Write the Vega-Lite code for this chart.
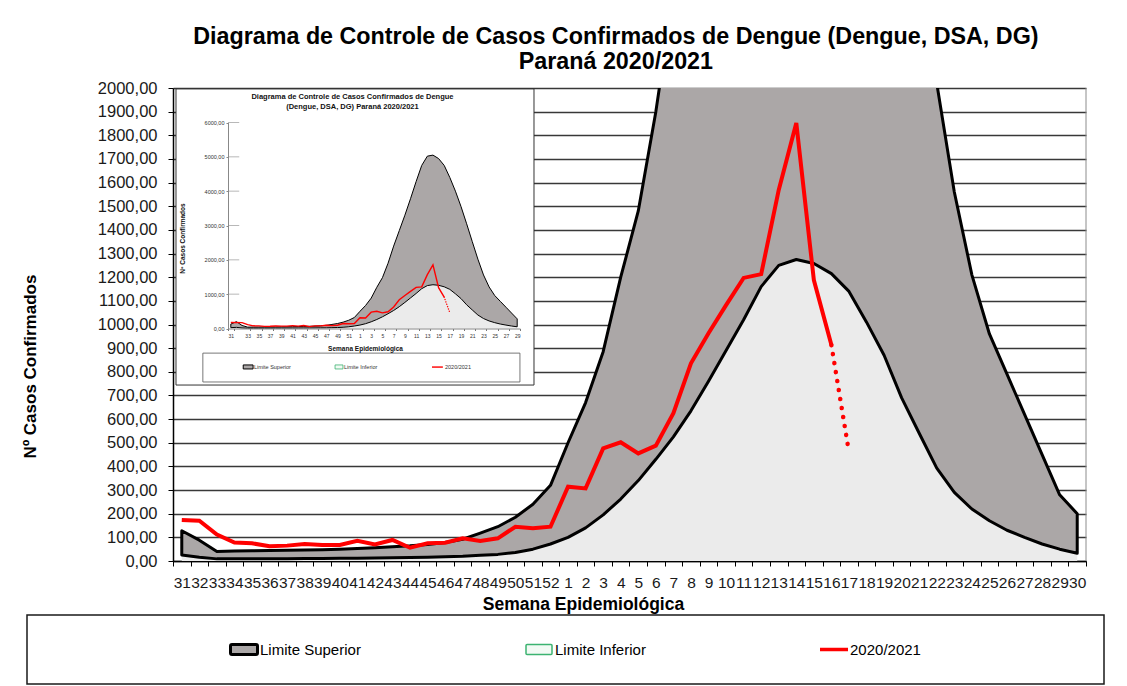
{
  "$schema": "https://vega.github.io/schema/vega-lite/v6.json",
  "background": "white",
  "padding": {"left": 21, "top": 24, "right": 0, "bottom": 0},
  "title": {
    "text": ["Diagrama de Controle de Casos Confirmados de Dengue (Dengue, DSA, DG)", "Paraná 2020/2021"],
    "font": "Liberation Sans", "fontSize": 23.3, "fontWeight": "bold", "color": "#000000",
    "lineHeight": 25, "anchor": "middle", "offset": 6, "dx": 53
  },
  "datasets": {
    "semanas": [
      {"semana":"31","sup":128,"inf":25,"casos":173},
      {"semana":"32","sup":88,"inf":16,"casos":170},
      {"semana":"33","sup":40,"inf":9,"casos":112},
      {"semana":"34","sup":42,"inf":9,"casos":78},
      {"semana":"35","sup":43,"inf":9,"casos":75},
      {"semana":"36","sup":44,"inf":10,"casos":62},
      {"semana":"37","sup":45,"inf":10,"casos":65},
      {"semana":"38","sup":46,"inf":11,"casos":72},
      {"semana":"39","sup":48,"inf":11,"casos":68},
      {"semana":"40","sup":50,"inf":12,"casos":68},
      {"semana":"41","sup":53,"inf":12,"casos":85},
      {"semana":"42","sup":56,"inf":13,"casos":70},
      {"semana":"43","sup":60,"inf":14,"casos":89},
      {"semana":"44","sup":64,"inf":15,"casos":56},
      {"semana":"45","sup":70,"inf":16,"casos":75},
      {"semana":"46","sup":78,"inf":18,"casos":77},
      {"semana":"47","sup":92,"inf":20,"casos":96},
      {"semana":"48","sup":118,"inf":24,"casos":85},
      {"semana":"49","sup":145,"inf":28,"casos":96},
      {"semana":"50","sup":185,"inf":36,"casos":145},
      {"semana":"51","sup":240,"inf":50,"casos":138},
      {"semana":"52","sup":320,"inf":72,"casos":145},
      {"semana":"1","sup":500,"inf":100,"casos":314},
      {"semana":"2","sup":670,"inf":140,"casos":307},
      {"semana":"3","sup":885,"inf":195,"casos":476},
      {"semana":"4","sup":1200,"inf":262,"casos":502},
      {"semana":"5","sup":1480,"inf":340,"casos":455},
      {"semana":"6","sup":1900,"inf":430,"casos":488},
      {"semana":"7","sup":2400,"inf":525,"casos":625},
      {"semana":"8","sup":2850,"inf":635,"casos":836},
      {"semana":"9","sup":3300,"inf":760,"casos":963},
      {"semana":"10","sup":3780,"inf":890,"casos":1082},
      {"semana":"11","sup":4280,"inf":1020,"casos":1197},
      {"semana":"12","sup":4750,"inf":1160,"casos":1213},
      {"semana":"13","sup":5020,"inf":1250,"casos":1569},
      {"semana":"14","sup":5050,"inf":1275,"casos":1852},
      {"semana":"15","sup":4950,"inf":1258,"casos":1188},
      {"semana":"16","sup":4750,"inf":1215,"casos":913,"proj":913},
      {"semana":"17","sup":4400,"inf":1140,"proj":460},
      {"semana":"18","sup":4000,"inf":1010},
      {"semana":"19","sup":3550,"inf":870},
      {"semana":"20","sup":3050,"inf":690},
      {"semana":"21","sup":2530,"inf":540},
      {"semana":"22","sup":2020,"inf":393},
      {"semana":"23","sup":1560,"inf":290},
      {"semana":"24","sup":1210,"inf":220},
      {"semana":"25","sup":960,"inf":170},
      {"semana":"26","sup":790,"inf":130},
      {"semana":"27","sup":620,"inf":100},
      {"semana":"28","sup":450,"inf":72},
      {"semana":"29","sup":280,"inf":50},
      {"semana":"30","sup":200,"inf":33}
    ],
    "legenda": [
      {"item": "Limite Superior"},
      {"item": "Limite Inferior"},
      {"item": "2020/2021"}
    ]
  },
  "spacing": 1,
  "vconcat": [
    {
      "width": 1077,
      "height": 473,
      "resolve": {"scale": {"x": "independent", "y": "independent"}},
      "layer": [
        {
          "data": {"name": "semanas"},
          "encoding": {
            "x": {
              "field": "semana", "type": "ordinal", "sort": null, "bandPosition": 0.5,
              "scale": {"type": "band", "paddingInner": 0, "paddingOuter": 0, "range": [146, 1059]},
              "axis": {
                "title": "Semana  Epidemiológica", "labelAngle": 0, "labelOverlap": false, "labelBound": false,
                "labelFont": "Liberation Sans", "labelFontSize": 15.5, "labelColor": "#1a1a1a",
                "labelBaseline": "middle", "labelPadding": 16, "tickBand": "extent", "tickSize": 5,
                "tickColor": "#000000", "domainColor": "#000000", "domainWidth": 1.5, "grid": false,
                "titleFont": "Liberation Sans", "titleFontSize": 17.5, "titleFontWeight": "bold", "titleColor": "#000000",
                "titleX": 556, "titleY": 43, "titleBaseline": "middle", "titleAlign": "center"
              }
            }
          },
          "layer": [
            {
              "mark": {"type": "area", "color": "#ebebeb", "clip": true},
              "encoding": {
                "y": {
                  "field": "inf", "type": "quantitative",
                  "scale": {"domain": [0, 2000], "nice": false, "zero": true},
                  "axis": {
                    "title": "Nº Casos  Confirmados", "orient": "left", "offset": -146,
                    "values": [0,100,200,300,400,500,600,700,800,900,1000,1100,1200,1300,1400,1500,1600,1700,1800,1900,2000],
                    "tickCount": 30, "labelOverlap": false, "labelBound": false,
                    "labelExpr": "replace(format(datum.value, '.2f'), '.', ',')",
                    "labelFont": "Liberation Sans", "labelFontSize": 16.5, "labelColor": "#1a1a1a", "labelPadding": 11,
                    "tickSize": 5, "tickColor": "#000000", "domainColor": "#000000", "domainWidth": 1.5,
                    "grid": true, "gridColor": "#383838", "gridWidth": 1.6,
                    "titleFont": "Liberation Sans", "titleFontSize": 17, "titleFontWeight": "bold", "titleColor": "#000000",
                    "titleX": -143, "titleY": 278, "titleBaseline": "middle", "titleAlign": "center", "titleAngle": -90
                  }
                }
              }
            },
            {
              "mark": {"type": "area", "fill": "#aba7a7", "stroke": "#000000", "strokeWidth": 3, "strokeJoin": "round", "clip": true},
              "encoding": {
                "y": {"field": "sup", "type": "quantitative"},
                "y2": {"field": "inf"}
              }
            },
            {
              "transform": [{"filter": "isValid(datum.casos)"}],
              "mark": {"type": "line", "color": "#ff0000", "strokeWidth": 4, "clip": true},
              "encoding": {"y": {"field": "casos", "type": "quantitative"}}
            },
            {
              "transform": [{"filter": "isValid(datum.proj)"}],
              "mark": {"type": "line", "color": "#ff0000", "strokeWidth": 4.5, "strokeCap": "round", "strokeDash": [0.1, 9], "clip": true},
              "encoding": {"y": {"field": "proj", "type": "quantitative"}}
            }
          ]
        },
        {
          "data": {"values": [{}]},
          "layer": [
            {
              "mark": {"type": "rule", "color": "#8c8c8c", "strokeWidth": 1},
              "encoding": {
                "x": {"datum": "30", "bandPosition": 1, "type": "ordinal",
                      "scale": {"type": "band", "paddingInner": 0, "paddingOuter": 0, "range": [146, 1059],
                                "domain": ["31","32","33","34","35","36","37","38","39","40","41","42","43","44","45","46","47","48","49","50","51","52","1","2","3","4","5","6","7","8","9","10","11","12","13","14","15","16","17","18","19","20","21","22","23","24","25","26","27","28","29","30"]},
                      "axis": null},
                "y": {"datum": 0, "type": "quantitative", "scale": {"domain": [0, 2000], "nice": false, "zero": true}, "axis": null},
                "y2": {"datum": 2000}
              }
            },
            {
              "mark": {"type": "rect", "fill": "#ffffff", "stroke": "#333333", "strokeWidth": 1},
              "encoding": {
                "x": {"datum": "31", "bandPosition": 0.17, "type": "ordinal", "axis": null},
                "x2": {"datum": "51", "bandPosition": 0.56},
                "y": {"datum": 744, "type": "quantitative", "axis": null},
                "y2": {"datum": 1996}
              }
            },
            {
              "mark": {"type": "text", "align": "center", "baseline": "top", "font": "Liberation Sans", "fontSize": 7.5, "fontWeight": "bold", "lineHeight": 10.5, "color": "#111111",
                       "text": ["Diagrama de Controle de Casos Confirmados de Dengue", "(Dengue, DSA, DG) Paraná 2020/2021"]},
              "encoding": {
                "x": {"datum": "41", "bandPosition": 0.22, "type": "ordinal", "axis": null},
                "y": {"datum": 1979, "type": "quantitative", "axis": null}
              }
            },
            {
              "mark": {"type": "rect", "fill": "#ffffff", "stroke": "#555555", "strokeWidth": 0.8},
              "encoding": {
                "x": {"datum": "32", "bandPosition": 0.7, "type": "ordinal", "axis": null},
                "x2": {"datum": "50", "bandPosition": 0.76},
                "y": {"datum": 757, "type": "quantitative", "axis": null},
                "y2": {"datum": 879}
              }
            },
            {
              "mark": {"type": "rect", "fill": "#aba7a7", "stroke": "#000000", "strokeWidth": 1},
              "encoding": {
                "x": {"datum": "35", "bandPosition": 0, "type": "ordinal", "axis": null},
                "x2": {"datum": "35", "bandPosition": 0.56},
                "y": {"datum": 812, "type": "quantitative", "axis": null},
                "y2": {"datum": 829}
              }
            },
            {
              "mark": {"type": "rect", "fill": "#f2faf4", "stroke": "#3cb371", "strokeWidth": 0.8},
              "encoding": {
                "x": {"datum": "40", "bandPosition": 0.23, "type": "ordinal", "axis": null},
                "x2": {"datum": "40", "bandPosition": 0.68},
                "y": {"datum": 812, "type": "quantitative", "axis": null},
                "y2": {"datum": 829}
              }
            },
            {
              "mark": {"type": "rect", "fill": "#ff0000"},
              "encoding": {
                "x": {"datum": "45", "bandPosition": 0.75, "type": "ordinal", "axis": null},
                "x2": {"datum": "46", "bandPosition": 0.37},
                "y": {"datum": 817, "type": "quantitative", "axis": null},
                "y2": {"datum": 823}
              }
            },
            {
              "mark": {"type": "text", "align": "left", "baseline": "middle", "font": "Liberation Sans", "fontSize": 5.5, "color": "#333333", "text": "Limite Superior"},
              "encoding": {
                "x": {"datum": "35", "bandPosition": 0.61, "type": "ordinal", "axis": null},
                "y": {"datum": 820, "type": "quantitative", "axis": null}
              }
            },
            {
              "mark": {"type": "text", "align": "left", "baseline": "middle", "font": "Liberation Sans", "fontSize": 5.5, "color": "#333333", "text": "Limite Inferior"},
              "encoding": {
                "x": {"datum": "40", "bandPosition": 0.74, "type": "ordinal", "axis": null},
                "y": {"datum": 820, "type": "quantitative", "axis": null}
              }
            },
            {
              "mark": {"type": "text", "align": "left", "baseline": "middle", "font": "Liberation Sans", "fontSize": 5.5, "color": "#333333", "text": "2020/2021"},
              "encoding": {
                "x": {"datum": "46", "bandPosition": 0.49, "type": "ordinal", "axis": null},
                "y": {"datum": 820, "type": "quantitative", "axis": null}
              }
            }
          ]
        },
        {
          "data": {"name": "semanas"},
          "encoding": {
            "x": {
              "field": "semana", "type": "ordinal", "sort": null, "bandPosition": 0.5,
              "scale": {"type": "band", "paddingInner": 0, "paddingOuter": 0, "range": [201, 493]},
              "axis": {
                "title": "Semana  Epidemiológica", "orient": "bottom", "offset": -232.5,
                "values": ["31","33","35","37","39","41","43","45","47","49","51","1","3","5","7","9","11","13","15","17","19","21","23","25","27","29"],
                "labelAngle": 0, "labelOverlap": false, "labelBound": false,
                "labelFont": "Liberation Sans", "labelFontSize": 5, "labelColor": "#333333",
                "labelBaseline": "middle", "labelPadding": 5, "tickSize": 2, "tickBand": "extent",
                "tickColor": "#777777", "domainColor": "#888888", "grid": false,
                "titleFont": "Liberation Sans", "titleFontSize": 6.5, "titleFontWeight": "bold", "titleColor": "#111111",
                "titleX": 338, "titleY": 19.5, "titleBaseline": "middle", "titleAlign": "center", "zindex": 1
              }
            }
          },
          "layer": [
            {
              "data": {"values": [{"v": 1000}, {"v": 2000}, {"v": 3000}, {"v": 4000}, {"v": 5000}, {"v": 6000}]},
              "mark": {"type": "rule", "color": "#9a9a9a", "strokeWidth": 0.7},
              "encoding": {
                "x": {"datum": "31", "bandPosition": 0},
                "x2": {"datum": "30", "bandPosition": 1},
                "y": {
                  "field": "v", "type": "quantitative",
                  "scale": {"domain": [0, 6000], "nice": false, "zero": true, "range": [240.5, 34.5]},
                  "axis": {
                    "title": "Nº Casos Confirmados", "orient": "left", "offset": -201,
                    "values": [0, 1000, 2000, 3000, 4000, 5000, 6000], "tickCount": 10, "labelOverlap": false,
                    "labelExpr": "replace(format(datum.value, '.2f'), '.', ',')",
                    "labelFont": "Liberation Sans", "labelFontSize": 5.5, "labelColor": "#333333", "labelPadding": 2,
                    "tickSize": 2, "tickColor": "#888888", "domainColor": "#888888", "grid": false,
                    "titleFont": "Liberation Sans", "titleFontSize": 6.5, "titleFontWeight": "bold", "titleColor": "#111111",
                    "titleX": -46, "titleY": 150, "titleBaseline": "middle", "titleAlign": "center", "titleAngle": -90, "zindex": 1
                  }
                }
              }
            },
            {
              "mark": {"type": "area", "color": "#ebebeb"},
              "encoding": {"y": {"field": "inf", "type": "quantitative", "scale": {"domain": [0, 6000], "nice": false, "zero": true, "range": [240.5, 34.5]}}}
            },
            {
              "mark": {"type": "area", "fill": "#aba7a7", "stroke": "#000000", "strokeWidth": 1, "strokeJoin": "round"},
              "encoding": {
                "y": {"field": "sup", "type": "quantitative", "scale": {"domain": [0, 6000], "nice": false, "zero": true, "range": [240.5, 34.5]}},
                "y2": {"field": "inf"}
              }
            },
            {
              "transform": [{"filter": "isValid(datum.casos)"}],
              "mark": {"type": "line", "color": "#ff0000", "strokeWidth": 1.4},
              "encoding": {"y": {"field": "casos", "type": "quantitative", "scale": {"domain": [0, 6000], "nice": false, "zero": true, "range": [240.5, 34.5]}}}
            },
            {
              "transform": [{"filter": "isValid(datum.proj)"}],
              "mark": {"type": "line", "color": "#ff0000", "strokeWidth": 1.4, "strokeCap": "round", "strokeDash": [0.1, 2.4]},
              "encoding": {"y": {"field": "proj", "type": "quantitative", "scale": {"domain": [0, 6000], "nice": false, "zero": true, "range": [240.5, 34.5]}}}
            }
          ]
        }
      ]
    },
    {
      "width": 1077,
      "height": 69,
      "view": {"stroke": "#1a1a1a", "strokeWidth": 1.5, "fill": "#ffffff"},
      "data": {"name": "legenda"},
      "encoding": {
        "x": {"field": "item", "type": "nominal", "sort": null, "scale": {"type": "point", "padding": 0.8254, "align": 0.4456}, "axis": null},
        "y": {"datum": "entradas", "type": "nominal", "scale": {"type": "point", "padding": 0.5}, "axis": null}
      },
      "layer": [
        {
          "transform": [{"filter": "datum.item === 'Limite Superior'"}],
          "mark": {"type": "rect", "width": 27, "height": 10, "cornerRadius": 1.5, "fill": "#aba7a7", "stroke": "#000000", "strokeWidth": 3}
        },
        {
          "transform": [{"filter": "datum.item === 'Limite Inferior'"}],
          "mark": {"type": "rect", "width": 26, "height": 10, "cornerRadius": 1, "fill": "#f2faf4", "stroke": "#3cb371", "strokeWidth": 1.5}
        },
        {
          "transform": [{"filter": "datum.item === '2020/2021'"}],
          "mark": {"type": "rect", "width": 28, "height": 3.5, "fill": "#ff0000"}
        },
        {
          "mark": {"type": "text", "align": "left", "baseline": "middle", "dx": 16, "font": "Liberation Sans", "fontSize": 15, "color": "#000000"},
          "encoding": {"text": {"field": "item"}}
        }
      ]
    }
  ],
  "config": {
    "view": {"stroke": null},
    "font": "Liberation Sans"
  }
}
